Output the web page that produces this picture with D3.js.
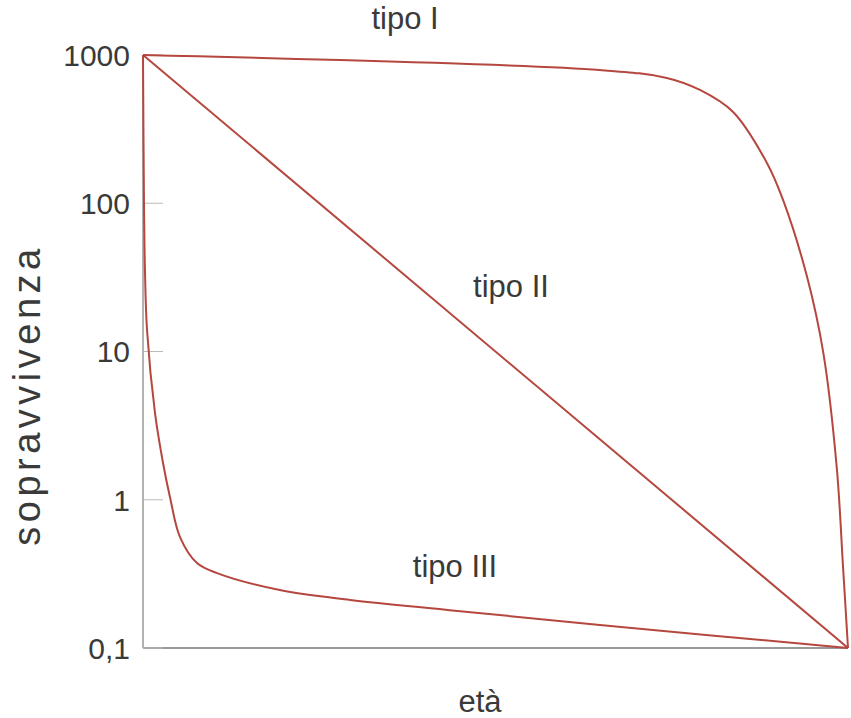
<!DOCTYPE html>
<html>
<head>
<meta charset="utf-8">
<script src="https://cdn.jsdelivr.net/npm/d3@7"></script>
<style>
  body { margin: 0; background: #fff; }
  text { font-family: "Liberation Sans", Arial, sans-serif; fill: #3a3a3a; }
</style>
</head>
<body>
<svg width="851" height="718"></svg>
<script>
// survival curves, age 0..100, survivors on log scale
var yTicks = [0.1, 1, 10, 100, 1000];
var yTickLabels = ["0,1", "1", "10", "100", "1000"];

var tipo1Age = [0, 64.8, 74.3, 79.0, 83.7, 88.5, 90.8, 94.2, 96.5, 98.4, 99.3, 100];
var tipo1Val = [1000, 792, 700, 581, 413, 187, 105, 31.8, 9.8, 1.66, 0.35, 0.1];

var tipo2Age = [0, 100];
var tipo2Val = [1000, 0.1];

var tipo3Age = [0, 0.14, 0.28, 0.57, 1.7, 2.84, 3.83, 5.25, 7.66, 10.5, 19.4, 29.4, 43.5, 64.8, 100];
var tipo3Val = [1000, 100, 35, 14, 3.85, 1.77, 1.04, 0.56, 0.374, 0.32, 0.246, 0.211, 0.18, 0.143, 0.1];

var svg = d3.select("svg");
var plotLeft = 143, plotRight = 848, plotTop = 55, plotBottom = 648;

var x = d3.scaleLinear().domain([0, 100]).range([plotLeft, plotRight]);
var y = d3.scaleLog().domain([0.1, 1000]).range([plotBottom, plotTop]);

// axes
svg.append("line")
    .attr("x1", plotLeft).attr("y1", plotTop).attr("x2", plotLeft).attr("y2", plotBottom)
    .style("stroke", "#999").style("stroke-width", 1.5);
svg.append("line")
    .attr("x1", plotLeft).attr("y1", plotBottom).attr("x2", plotRight).attr("y2", plotBottom)
    .style("stroke", "#999").style("stroke-width", 2);

svg.append("g").selectAll("line")
    .data(yTicks)
  .enter().append("line")
    .attr("x1", plotLeft).attr("x2", plotLeft + 20)
    .attr("y1", function (d) { return y(d); })
    .attr("y2", function (d) { return y(d); })
    .style("stroke", "#bbb").style("stroke-width", 1);

svg.append("g").selectAll("text")
    .data(yTicks)
  .enter().append("text")
    .attr("x", 130)
    .attr("y", function (d) { return y(d); })
    .attr("dy", "0.36em")
    .attr("text-anchor", "end")
    .style("font-size", "30px")
    .text(function (d, i) { return yTickLabels[i]; });

// curves
var line = d3.line()
    .x(function (d) { return x(d[0]); })
    .y(function (d) { return y(d[1]); })
    .curve(d3.curveCatmullRom.alpha(0.5));

function pairs(a, v) { return a.map(function (d, i) { return [d, v[i]]; }); }

[pairs(tipo1Age, tipo1Val), pairs(tipo2Age, tipo2Val), pairs(tipo3Age, tipo3Val)].forEach(function (s) {
  svg.append("path")
      .attr("d", line(s))
      .style("fill", "none")
      .style("stroke", "#b5473f")
      .style("stroke-width", 2);
});

// labels
var labels = [
  { t: "tipo I", x: 405, y: 29 },
  { t: "tipo II", x: 511, y: 297 },
  { t: "tipo III", x: 455, y: 577 },
  { t: "età", x: 480, y: 712 }
];
svg.append("g").selectAll("text")
    .data(labels)
  .enter().append("text")
    .attr("x", function (d) { return d.x; })
    .attr("y", function (d) { return d.y; })
    .attr("text-anchor", "middle")
    .style("font-size", "31px")
    .text(function (d) { return d.t; });

svg.append("text")
    .attr("transform", "translate(40,395) rotate(-90)")
    .attr("text-anchor", "middle")
    .style("font-size", "38px")
    .style("letter-spacing", "4.5px")
    .text("sopravvivenza");
</script>
</body>
</html>
